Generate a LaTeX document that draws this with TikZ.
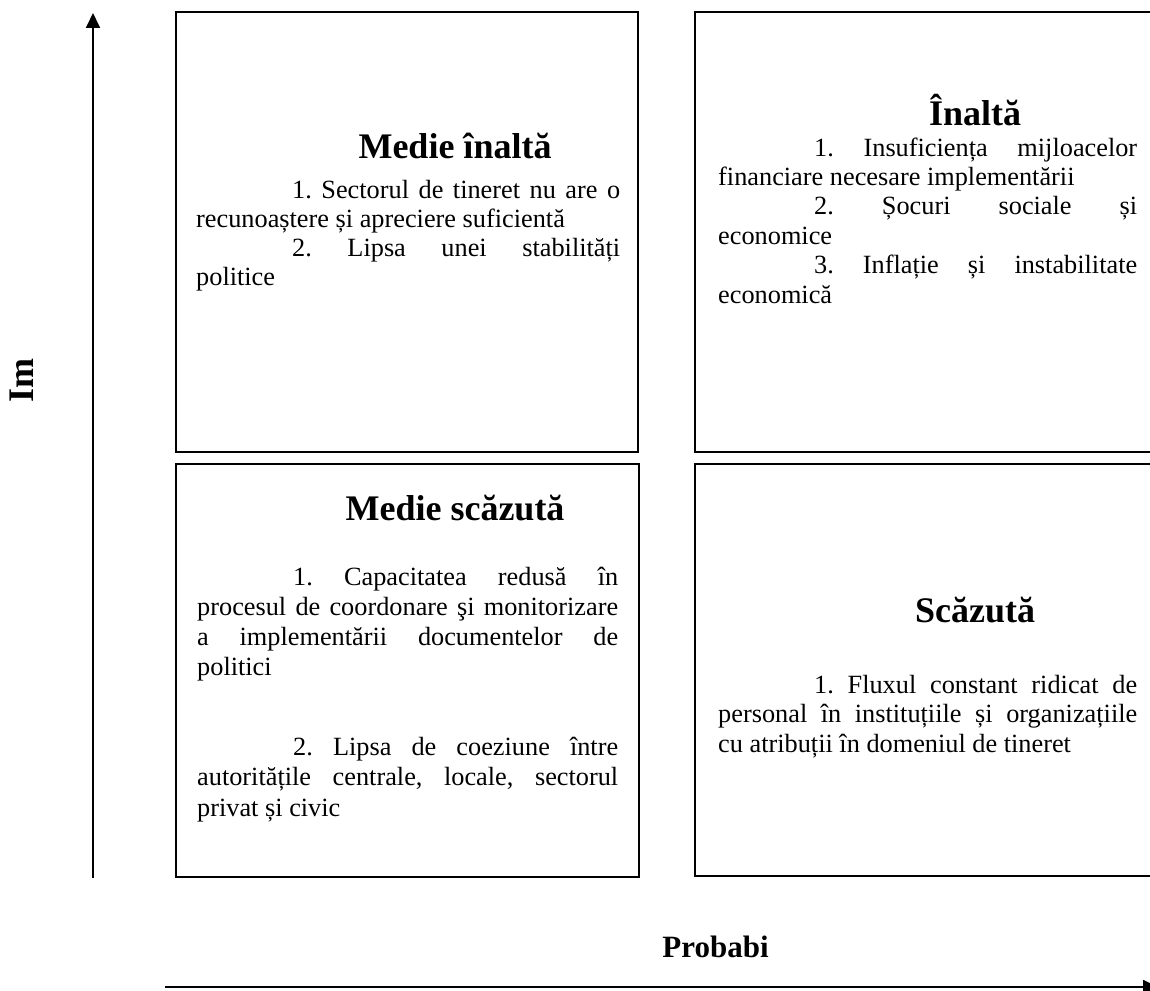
\documentclass[tikz,border=0pt]{standalone}
\usepackage{fontspec}
\setmainfont{Liberation Serif}
\usetikzlibrary{arrows.meta}
\frenchspacing
\newcommand{\blockpar}[3]{\parbox[t]{#1}{\fontsize{26.3}{#2}\selectfont\frenchspacing\tolerance=10000\pretolerance=-1\hyphenpenalty=10000\emergencystretch=20pt #3}}
\newcommand{\ind}{\hspace*{96pt}}
\tikzset{
  box/.style={draw=black, line width=1.8pt, rectangle, inner sep=0pt},
  head/.style={font=\fontsize{36}{40}\selectfont\bfseries, inner sep=0pt, anchor=base},
  txt/.style={inner sep=0pt, anchor=base west},
  axis/.style={line width=1.8pt, -{Triangle[length=15pt,width=14pt]}},
  axlabel/.style={font=\fontsize{36}{40}\selectfont\bfseries, inner sep=0pt}
}
\begin{document}
\begin{tikzpicture}[x=1pt,y=-1pt]
\useasboundingbox (0,0) rectangle (1150,990);
\clip (0,0) rectangle (1150,990);
% boxes
\node[box, minimum width=462pt, minimum height=440pt] (tl) at (407,232) {};
\node[box, minimum width=463pt, minimum height=440pt] (tr) at (926.5,232) {};
\node[box, minimum width=463pt, minimum height=413pt] (bl) at (407.5,670.5) {};
\node[box, minimum width=463pt, minimum height=412pt] (br) at (926.5,670) {};
% headings
\node[head] (tlh) at (455,158) {Medie înaltă};
\node[head] (trh) at (975,125) {Înaltă};
\node[head] (blh) at (455,520) {Medie scăzută};
\node[head] (brh) at (975,622) {Scăzută};
% texts
\node[txt] (tlt) at (196,198) {\blockpar{424pt}{29.3pt}{\ind 1. Sectorul de tineret nu are o\linebreak recunoaștere și apreciere suficientă\par\ind 2. Lipsa unei stabilități\linebreak politice}};
\node[txt] (trt) at (718,156) {\blockpar{419pt}{29.4pt}{\ind 1. Insuficiența mijloacelor\linebreak financiare necesare implementării\par\ind 2. Șocuri sociale și\linebreak economice\par\ind 3. Inflație și instabilitate\linebreak economică}};
\node[txt] (blt1) at (197,585) {\blockpar{421pt}{30pt}{\ind 1. Capacitatea redusă în\linebreak procesul de coordonare şi monitorizare\linebreak a implementării documentelor de\linebreak politici}};
\node[txt] (blt2) at (197,755) {\blockpar{421pt}{30.5pt}{\ind 2. Lipsa de coeziune între\linebreak autoritățile centrale, locale, sectorul\linebreak privat și civic}};
\node[txt] (brt) at (718,693) {\blockpar{419pt}{29.5pt}{\ind 1. Fluxul constant ridicat de\linebreak personal în instituțiile și organizațiile\linebreak cu atribuții în domeniul de tineret}};
% axes
\coordinate (ybot) at (93,878);
\coordinate (ytop) at (93,13);
\draw[axis] (ybot) -- (ytop);
\coordinate (xl) at (165,987);
\coordinate (xr) at (1158,987);
\draw[axis] (xl) -- (xr);
\node[axlabel, rotate=90] (im) at (22,380) {Im};
\node[font=\fontsize{31}{36}\selectfont\bfseries, inner sep=0pt, anchor=base] (prob) at (715.5,957) {Probabi};
\end{tikzpicture}
\end{document}
